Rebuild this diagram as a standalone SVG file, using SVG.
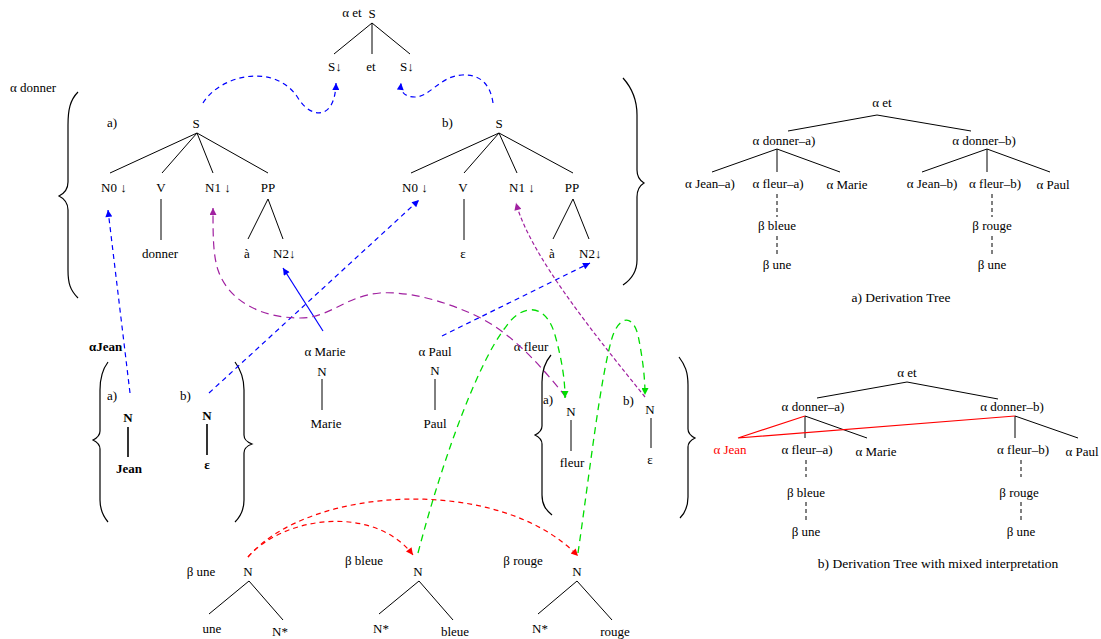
<svg xmlns="http://www.w3.org/2000/svg" width="1101" height="639" viewBox="0 0 1101 639">
<style>
text{font-family:"Liberation Serif","DejaVu Serif",serif;font-size:13px;fill:#000}
.m{text-anchor:middle}
.b{font-weight:bold}
.r{fill:#ff0000}
.cap{font-size:13.5px}
.e{stroke:#000;stroke-width:1;fill:none}
.eb{stroke:#000;stroke-width:1.6;fill:none}
.d{stroke:#000;stroke-width:1;fill:none;stroke-dasharray:4,3}
.br{stroke:#000;stroke-width:1.2;fill:none}
.cb{stroke:#0000ff;stroke-width:1.2;fill:none;stroke-dasharray:5,4}
.cbs{stroke:#0000ff;stroke-width:1.2;fill:none}
.cp{stroke:#a020a0;stroke-width:1.2;fill:none;stroke-dasharray:8,5}
.cp2{stroke:#a020a0;stroke-width:1.2;fill:none;stroke-dasharray:4,2.5}
.cg{stroke:#00dd00;stroke-width:1.3;fill:none;stroke-dasharray:7,5}
.cr{stroke:#ff0000;stroke-width:1.2;fill:none;stroke-dasharray:5,4}
.rl{stroke:#ff0000;stroke-width:1.2;fill:none}
</style>
<defs>
<marker id="ab" viewBox="0 0 10 10" refX="10" refY="5" markerWidth="10" markerHeight="7" markerUnits="userSpaceOnUse" orient="auto"><path d="M0,0 L10,5 L0,10 z" fill="#0000ff"/></marker>
<marker id="ap" viewBox="0 0 10 10" refX="10" refY="5" markerWidth="10" markerHeight="7" markerUnits="userSpaceOnUse" orient="auto"><path d="M0,0 L10,5 L0,10 z" fill="#a020a0"/></marker>
<marker id="ag" viewBox="0 0 10 10" refX="10" refY="5" markerWidth="10" markerHeight="7" markerUnits="userSpaceOnUse" orient="auto"><path d="M0,0 L10,5 L0,10 z" fill="#00dd00"/></marker>
<marker id="ar" viewBox="0 0 10 10" refX="10" refY="5" markerWidth="10" markerHeight="7" markerUnits="userSpaceOnUse" orient="auto"><path d="M0,0 L10,5 L0,10 z" fill="#ff0000"/></marker>
</defs>
<rect width="1101" height="639" fill="#fff"/>

<g id="alpha-et">
<text x="352" y="17" class="m">α et</text>
<text x="372" y="18" class="m">S</text>
<path class="e" d="M372,23 L334,54 M372,23 L372,54 M372,23 L410,54"/>
<text x="328" y="71">S↓</text>
<text x="371" y="71" class="m">et</text>
<text x="400" y="71">S↓</text>
</g>

<g id="alpha-donner">
<text x="10" y="92">α donner</text>
<path class="br" d="M78,92 C70,100 68,110 68,125 L68,182 C68,189 65,193 59,196 C65,199 68,203 68,210 L68,270 C68,283 70,290 78,298"/>
<path class="br" d="M623,78 C632,88 637,100 637,115 L637,170 C637,176 639,180 644,183 C639,186 637,190 637,197 L637,260 C637,272 632,279 623,285"/>
</g>

<g id="donner-a">
<text x="107" y="127">a)</text>
<text x="196" y="128" class="m">S</text>
<path class="e" d="M197,133 L110,173 M197,133 L162,173 M197,133 L213,173 M197,133 L268,173"/>
<text x="101" y="192">N0 ↓</text>
<text x="161" y="192" class="m">V</text>
<text x="205" y="192">N1 ↓</text>
<text x="268" y="192" class="m">PP</text>
<path class="e" d="M161,199 L161,240 M268,199 L248,239 M268,199 L283,239"/>
<text x="160" y="258" class="m">donner</text>
<text x="247" y="258" class="m">à</text>
<text x="273" y="258">N2↓</text>
</g>

<g id="donner-b">
<text x="442" y="127">b)</text>
<text x="499" y="128" class="m">S</text>
<path class="e" d="M499,133 L411,173 M499,133 L464,173 M499,133 L517,173 M499,133 L573,173"/>
<text x="402" y="192">N0 ↓</text>
<text x="463" y="192" class="m">V</text>
<text x="509" y="192">N1 ↓</text>
<text x="572" y="192" class="m">PP</text>
<path class="e" d="M464,199 L464,240 M573,199 L553,239 M573,199 L589,239"/>
<text x="463" y="258" class="m">ε</text>
<text x="552" y="258" class="m">à</text>
<text x="579" y="258">N2↓</text>
</g>

<g id="alpha-jean">
<text x="89" y="351" class="b">αJean</text>
<path class="br" d="M108,362 C102,370 100,378 100,390 L100,431 C100,436 97,438 93,440 C97,442 100,444 100,449 L100,500 C100,510 103,516 108,522"/>
<path class="br" d="M235,362 C241,370 244,378 244,390 L244,435 C244,440 247,442 252,444 C247,446 244,448 244,453 L244,500 C244,510 241,516 235,522"/>
<text x="107" y="400">a)</text>
<text x="128" y="422" class="m b">N</text>
<path class="eb" d="M128,427 L128,457"/>
<text x="129" y="473" class="m b">Jean</text>
<text x="180" y="400">b)</text>
<text x="207" y="420" class="m b">N</text>
<path class="eb" d="M207,424 L207,455"/>
<text x="207" y="469" class="m b">ε</text>
</g>

<g id="alpha-marie">
<text x="325" y="356" class="m">α Marie</text>
<text x="322" y="376" class="m">N</text>
<path class="e" d="M322,379 L322,410"/>
<text x="326" y="428" class="m">Marie</text>
</g>

<g id="alpha-paul">
<text x="435" y="356" class="m">α Paul</text>
<text x="435" y="375" class="m">N</text>
<path class="e" d="M435,379 L435,410"/>
<text x="435" y="428" class="m">Paul</text>
</g>

<g id="alpha-fleur">
<text x="531" y="351" class="m">α fleur</text>
<path class="br" d="M551,355 C545,362 542,370 542,382 L542,426 C542,431 539,433 535,435 C539,437 542,439 542,444 L542,495 C542,505 546,510 552,515"/>
<path class="br" d="M679,357 C685,365 688,372 688,385 L688,429 C688,434 691,436 695,438 C691,440 688,442 688,447 L688,497 C688,507 685,513 680,518"/>
<text x="543" y="404">a)</text>
<text x="571" y="416" class="m">N</text>
<path class="e" d="M571,420 L571,451"/>
<text x="572" y="467" class="m">fleur</text>
<text x="623" y="405">b)</text>
<text x="650" y="414" class="m">N</text>
<path class="e" d="M651,418 L651,448"/>
<text x="650" y="464" class="m">ε</text>
</g>

<g id="beta-une">
<text x="201" y="576" class="m">β une</text>
<text x="248" y="576" class="m">N</text>
<path class="e" d="M249,581 L209,614 M249,581 L283,620"/>
<text x="212" y="633" class="m">une</text>
<text x="280" y="636" class="m">N*</text>
</g>

<g id="beta-bleue">
<text x="364" y="565" class="m">β bleue</text>
<text x="418" y="576" class="m">N</text>
<path class="e" d="M419,581 L379,614 M419,581 L453,620"/>
<text x="381" y="633" class="m">N*</text>
<text x="455" y="636" class="m">bleue</text>
</g>

<g id="beta-rouge">
<text x="523" y="565" class="m">β rouge</text>
<text x="577" y="576" class="m">N</text>
<path class="e" d="M577,581 L538,614 M577,581 L612,620"/>
<text x="540" y="633" class="m">N*</text>
<text x="615" y="636" class="m">rouge</text>
</g>

<g id="connectors">
<path class="cb" marker-end="url(#ab)" d="M203,103 C220,75 275,62 298,98 C310,118 335,122 336,83"/>
<path class="cb" marker-end="url(#ab)" d="M493,103 C490,82 478,74 462,75 C440,76 430,97 415,97 C405,97 400,92 401,83"/>
<path class="cb" marker-end="url(#ab)" d="M130,393 L108,210"/>
<path class="cb" marker-end="url(#ab)" d="M209,393 L419,200"/>
<path class="cbs" marker-end="url(#ab)" d="M323,331 L283,268"/>
<path class="cb" marker-end="url(#ab)" d="M442,336 L590,263"/>
<path class="cp" marker-end="url(#ap)" d="M566,397 C540,365 510,330 470,313 C445,302 410,291 380,293 C345,296 330,318 300,318 C260,318 228,300 218,270 C213,255 213,235 213,208"/>
<path class="cp2" marker-end="url(#ap)" d="M645,397 C595,335 530,255 516,203"/>
<path class="cg" marker-end="url(#ag)" d="M418,553 C445,450 480,360 505,328 C520,305 545,300 555,335 C562,360 565,380 565,398"/>
<path class="cg" marker-end="url(#ag)" d="M578,553 C590,470 600,380 612,338 C618,318 632,312 638,335 C642,355 645,375 645,395"/>
<path class="cr" marker-end="url(#ar)" d="M248,557 C285,515 375,505 413,555"/>
<path class="cr" marker-end="url(#ar)" d="M248,557 C310,485 500,475 578,556"/>
</g>

<g id="derivation-a">
<text x="882" y="107" class="m">α et</text>
<path class="e" d="M877,115 L788,131 M877,115 L971,131"/>
<text x="784" y="145" class="m">α donner–a)</text>
<text x="984" y="145" class="m">α donner–b)</text>
<path class="e" d="M777,149 L712,172 M777,149 L777,172 M777,149 L840,172 M987,149 L922,172 M987,149 L987,172 M987,149 L1050,172"/>
<text x="710" y="188" class="m">α Jean–a)</text>
<text x="778" y="188" class="m">α fleur–a)</text>
<text x="847" y="189" class="m">α Marie</text>
<text x="932" y="188" class="m">α Jean–b)</text>
<text x="995" y="188" class="m">α fleur–b)</text>
<text x="1053" y="189" class="m">α Paul</text>
<path class="d" d="M777,194 L777,217 M777,236 L777,257 M992,194 L992,217 M992,236 L992,257"/>
<text x="777" y="230" class="m">β bleue</text>
<text x="777" y="269" class="m">β une</text>
<text x="992" y="230" class="m">β rouge</text>
<text x="992" y="269" class="m">β une</text>
<text x="901" y="302" class="m cap">a) Derivation Tree</text>
</g>

<g id="derivation-b">
<text x="907" y="377" class="m">α et</text>
<path class="e" d="M907,382 L817,398 M907,382 L998,399"/>
<text x="813" y="411" class="m">α donner–a)</text>
<text x="1012" y="411" class="m">α donner–b)</text>
<path class="e" d="M805,416 L805,438 M805,416 L867,438 M1015,416 L1015,438 M1015,416 L1078,438"/>
<path class="rl" d="M805,416 L738,438 M1015,416 L738,438"/>
<text x="730" y="454" class="m r">α Jean</text>
<text x="807" y="454" class="m">α fleur–a)</text>
<text x="876" y="456" class="m">α Marie</text>
<text x="1023" y="454" class="m">α fleur–b)</text>
<text x="1082" y="456" class="m">α Paul</text>
<path class="d" d="M806,460 L806,477 M806,502 L806,522 M1021,460 L1021,477 M1021,502 L1021,522"/>
<text x="806" y="497" class="m">β bleue</text>
<text x="806" y="536" class="m">β une</text>
<text x="1019" y="497" class="m">β rouge</text>
<text x="1021" y="536" class="m">β une</text>
<text x="938" y="568" class="m cap">b) Derivation Tree with mixed interpretation</text>
</g>
</svg>
